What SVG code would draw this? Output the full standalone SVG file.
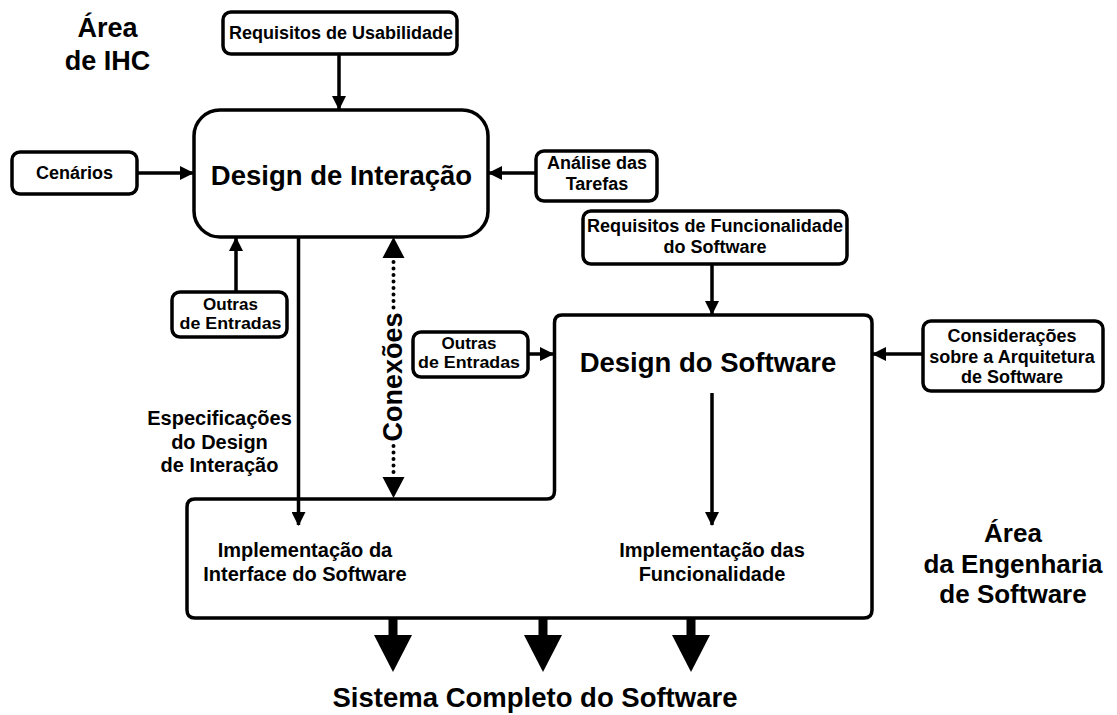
<svg xmlns="http://www.w3.org/2000/svg" width="1117" height="715" viewBox="0 0 1117 715">
  <style>
    .box { fill: #ffffff; stroke: #000000; stroke-width: 3.5; }
    .line { fill: none; stroke: #000000; stroke-width: 3.5; }
    .dots { fill: none; stroke: #000000; stroke-width: 4; stroke-linecap: round; stroke-dasharray: 0 6.5; }
    text { font-family: "Liberation Sans", Arial, sans-serif; font-weight: bold; fill: #000000; text-anchor: middle; }
    .s17 { font-size: 17px; }
    .s18 { font-size: 18px; }
    .s20 { font-size: 20px; }
    .s26 { font-size: 26px; }
    .s27 { font-size: 27px; }
    .s28 { font-size: 27.5px; }
  </style>
  <defs>
    <marker id="head" viewBox="0 0 14 14" refX="13" refY="7" markerWidth="14" markerHeight="14" markerUnits="userSpaceOnUse" orient="auto-start-reverse">
      <path d="M0,0 L14,7 L0,14 Z" fill="#000000"/>
    </marker>
  </defs>

  <rect width="1117" height="715" fill="#ffffff"/>

  <!-- area titles -->
  <g id="area-ihc">
    <text class="s27" x="107.5" y="37">Área</text>
    <text class="s27" x="107.5" y="70">de IHC</text>
  </g>
  <g id="area-es">
    <text class="s26" x="1013" y="542">Área</text>
    <text class="s26" x="1013" y="573">da Engenharia</text>
    <text class="s26" x="1013" y="603">de Software</text>
  </g>

  <!-- input boxes -->
  <g id="req-usabilidade">
    <rect class="box" x="223" y="12" width="234" height="42" rx="8"/>
    <text class="s18" x="341" y="39">Requisitos de Usabilidade</text>
  </g>
  <g id="cenarios">
    <rect class="box" x="12" y="152" width="125" height="42" rx="8"/>
    <text class="s18" x="74.5" y="179">Cenários</text>
  </g>
  <g id="analise-tarefas">
    <rect class="box" x="536" y="151" width="121" height="50" rx="8"/>
    <text class="s18" x="597" y="169">Análise das</text>
    <text class="s18" x="597" y="190">Tarefas</text>
  </g>
  <g id="outras-entradas-1">
    <rect class="box" x="172" y="292" width="115" height="45" rx="8"/>
    <text class="s17" x="230.5" y="310">Outras</text>
    <text class="s17" x="230.5" y="329" textLength="102" lengthAdjust="spacingAndGlyphs">de Entradas</text>
  </g>
  <g id="req-funcionalidade">
    <rect class="box" x="583" y="211" width="264" height="53" rx="8"/>
    <text class="s18" x="715" y="232" textLength="256" lengthAdjust="spacingAndGlyphs">Requisitos de Funcionalidade</text>
    <text class="s18" x="715" y="253">do Software</text>
  </g>
  <g id="outras-entradas-2">
    <rect class="box" x="413" y="332" width="115" height="45" rx="8"/>
    <text class="s17" x="469" y="349">Outras</text>
    <text class="s17" x="469" y="368" textLength="102" lengthAdjust="spacingAndGlyphs">de Entradas</text>
  </g>
  <g id="consideracoes">
    <rect class="box" x="923" y="321" width="180" height="70" rx="8"/>
    <text class="s18" x="1012" y="342">Considerações</text>
    <text class="s18" x="1012" y="362.5">sobre a Arquitetura</text>
    <text class="s18" x="1012" y="383">de Software</text>
  </g>

  <!-- main blocks -->
  <g id="design-interacao">
    <rect class="box" x="194" y="110" width="294" height="127" rx="26"/>
    <text class="s28" x="341.5" y="185">Design de Interação</text>
  </g>
  <g id="design-software">
    <path class="box" d="M562,315 H864 Q872,315 872,323 V610 Q872,618 864,618 H195 Q187,618 187,610 V507 Q187,499 195,499 H547 Q554.5,499 554.5,491 V323 Q554.5,315 562,315 Z"/>
    <text class="s28" x="708" y="372">Design do Software</text>
    <text class="s20" x="305" y="557">Implementação da</text>
    <text class="s20" x="305" y="581">Interface do Software</text>
    <text class="s20" x="712" y="557">Implementação das</text>
    <text class="s20" x="712" y="581">Funcionalidade</text>
  </g>

  <g id="especificacoes">
    <text class="s20" x="219.5" y="425">Especificações</text>
    <text class="s20" x="219.5" y="449">do Design</text>
    <text class="s20" x="219.5" y="472">de Interação</text>
  </g>

  <g id="sistema-completo">
    <text class="s28" x="535" y="707">Sistema Completo do Software</text>
  </g>

  <!-- connectors -->
  <g id="connectors">
    <line class="line" x1="339" y1="54" x2="339" y2="109" marker-end="url(#head)"/>
    <line class="line" x1="137" y1="173" x2="193" y2="173" marker-end="url(#head)"/>
    <line class="line" x1="536" y1="173" x2="489" y2="173" marker-end="url(#head)"/>
    <line class="line" x1="236" y1="292" x2="236" y2="238" marker-end="url(#head)"/>
    <line class="line" x1="298.5" y1="237" x2="298.5" y2="525" marker-end="url(#head)"/>
    <line class="line" x1="712" y1="264" x2="712" y2="314" marker-end="url(#head)"/>
    <line class="line" x1="528" y1="354" x2="553" y2="354" marker-end="url(#head)"/>
    <line class="line" x1="923" y1="354" x2="873" y2="354" marker-end="url(#head)"/>
    <line class="line" x1="712" y1="393" x2="712" y2="525" marker-end="url(#head)"/>

    <!-- dotted two-way link with its label -->
    <line class="dots" x1="393.5" y1="262" x2="393.5" y2="308"/>
    <line class="dots" x1="393.5" y1="446" x2="393.5" y2="478"/>
    <path d="M393.5,237 L382.5,258 L404.5,258 Z" fill="#000000"/>
    <path d="M393.5,498 L382.5,477 L404.5,477 Z" fill="#000000"/>
    <text class="s27" transform="translate(402,377) rotate(-90)">Conexões</text>

    <!-- output arrows -->
    <g fill="#000000">
      <rect x="388.5" y="617" width="9" height="19"/>
      <path d="M374,635 H412 L393,672 Z"/>
      <rect x="538.5" y="617" width="9" height="19"/>
      <path d="M524,635 H562 L543,672 Z"/>
      <rect x="686.5" y="617" width="9" height="19"/>
      <path d="M672,635 H710 L691,672 Z"/>
    </g>
  </g>
</svg>
